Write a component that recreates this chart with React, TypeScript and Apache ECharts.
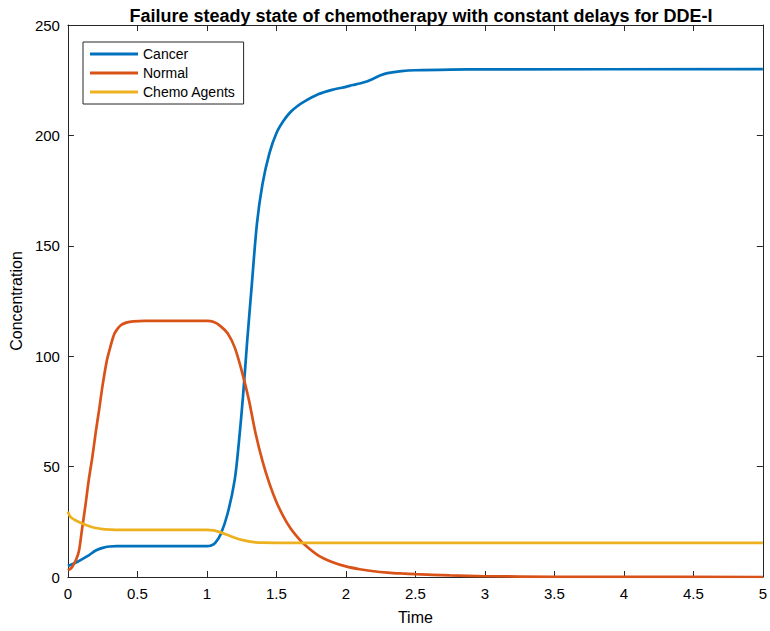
import React, { useEffect, useRef } from "react";
import * as echarts from "echarts";

const cancerTime = [0, 0.05, 0.1, 0.15, 0.2, 0.25, 0.3, 0.35, 1.0, 1.03, 1.06, 1.1, 1.15, 1.2, 1.23, 1.26, 1.29, 1.32, 1.36, 1.4, 1.45, 1.5, 1.55, 1.6, 1.65, 1.7, 1.8, 1.9, 2.0, 2.05, 2.1, 2.15, 2.2, 2.25, 2.3, 2.4, 2.5, 2.75, 3.0, 5.0];
const cancer = [5.0, 6.3, 8.0, 9.8, 12.0, 13.2, 13.8, 14.0, 14.0, 14.3, 15.5, 19.5, 29, 44, 61, 82, 107, 130, 160, 178, 192, 201, 206.5, 210.5, 213.2, 215.3, 218.6, 220.6, 222, 222.8, 223.5, 224.4, 225.8, 227.2, 228.2, 229.1, 229.5, 229.8, 229.9, 230];

const normalTime = [0, 0.03, 0.06, 0.08, 0.1, 0.125, 0.15, 0.175, 0.2, 0.225, 0.25, 0.28, 0.3, 0.33, 0.35, 0.38, 0.42, 0.47, 0.55, 1.0, 1.05, 1.1, 1.15, 1.2, 1.25, 1.3, 1.35, 1.4, 1.45, 1.5, 1.55, 1.6, 1.65, 1.7, 1.8, 1.9, 2.0, 2.1, 2.2, 2.3, 2.4, 2.5, 2.75, 3.0, 3.5, 4.0, 5.0];
const normal = [3, 4.5, 8, 12, 21, 32, 44, 54, 65.5, 76, 87, 98, 103, 109.5, 111.8, 114, 115.2, 115.8, 116, 116, 115.5, 113.5, 110.3, 104, 93.5, 80.8, 65.1, 52.5, 42.3, 34, 27.5, 22.2, 18.2, 14.8, 9.8, 6.8, 4.8, 3.5, 2.6, 2.0, 1.6, 1.3, 0.7, 0.35, 0.1, 0.03, 0];

const chemoTime = [0, 0.01, 0.025, 0.05, 0.1, 0.15, 0.2, 0.25, 0.3, 0.4, 1.0, 1.05, 1.1, 1.15, 1.2, 1.25, 1.3, 1.35, 1.4, 1.5, 5.0];
const chemo = [29.6, 28, 26.8, 25.8, 24.3, 23.1, 22.2, 21.7, 21.5, 21.3, 21.3, 21.1, 20.2, 19, 17.8, 16.8, 16.1, 15.7, 15.55, 15.5, 15.5];

const seriesNames = ["Cancer", "Normal", "Chemo Agents"];
const colors = ["#0072BD", "#D95319", "#EDB120"];
const xTicks = [0, 0.5, 1, 1.5, 2, 2.5, 3, 3.5, 4, 4.5, 5];
const yTicks = [0, 50, 100, 150, 200, 250];

const FONT = "'Liberation Sans', Arial, Helvetica, sans-serif";
const AX = "#262626";

export default function App() {
  const ref = useRef<HTMLDivElement>(null);
  useEffect(() => {
    if (!ref.current) return;
    const chart = echarts.init(ref.current, null, { renderer: "svg" });
    const sets = [
      [cancerTime, cancer],
      [normalTime, normal],
      [chemoTime, chemo],
    ];
    const mkSeries = sets.map(([ts, vs], i) => ({
      name: seriesNames[i],
      type: "line",
      data: ts.map((t, j) => [t, vs[j]]),
      showSymbol: false,
      smooth: 0.3,
      lineStyle: { color: colors[i], width: 2.7 },
      itemStyle: { color: colors[i] },
      xAxisIndex: 0,
      yAxisIndex: 0,
    }));
    const common = {
      axisLine: { show: true, onZero: false, lineStyle: { color: AX, width: 1 } },
      axisTick: { show: true, inside: true, length: 6, lineStyle: { color: AX } },
      splitLine: { show: false },
    };
    chart.setOption({
      animation: false,
      backgroundColor: "#fff",
      title: {
        text: "Failure steady state of chemotherapy with constant delays for DDE-I",
        left: 416,
        textAlign: "center",
        top: 2,
        textStyle: { fontFamily: FONT, fontSize: 18, fontWeight: "bold", color: "#000" },
      },
      legend: {
        orient: "vertical",
        left: 83,
        top: 42,
        data: seriesNames,
        icon: "rect",
        itemWidth: 48,
        itemHeight: 3,
        itemGap: 3,
        padding: [4, 8, 4, 7],
        borderColor: AX,
        borderWidth: 1,
        backgroundColor: "#fff",
        textStyle: { fontFamily: FONT, fontSize: 14, color: "#000", lineHeight: 16 },
      },
      grid: { left: 66, right: 4, top: 25, bottom: 54 },
      xAxis: [
        {
          type: "value",
          min: 0,
          max: 5,
          interval: 0.5,
          position: "bottom",
          name: "Time",
          nameLocation: "middle",
          nameGap: 32,
          nameTextStyle: { fontFamily: FONT, fontSize: 16, color: "#000" },
          axisLabel: {
            fontFamily: FONT,
            fontSize: 15,
            color: "#000",
            margin: 9,
            formatter: (v: number) => (xTicks.includes(v) ? String(v) : ""),
          },
          ...common,
        },
        {
          type: "value",
          min: 0,
          max: 5,
          interval: 0.5,
          position: "top",
          axisLabel: { show: false },
          ...common,
        },
      ],
      yAxis: [
        {
          type: "value",
          min: 0,
          max: 250,
          interval: 50,
          position: "left",
          name: "Concentration",
          nameLocation: "middle",
          nameGap: 41,
          nameTextStyle: { fontFamily: FONT, fontSize: 16, color: "#000" },
          axisLabel: {
            fontFamily: FONT,
            fontSize: 15,
            color: "#000",
            margin: 8,
            formatter: (v: number) => (yTicks.includes(v) ? String(v) : ""),
          },
          ...common,
        },
        {
          type: "value",
          min: 0,
          max: 250,
          interval: 50,
          position: "right",
          axisLabel: { show: false },
          ...common,
        },
      ],
      series: mkSeries,
    });
    return () => chart.dispose();
  }, []);
  return <div ref={ref} style={{ width: 770, height: 631, position: "absolute", left: 0, top: 0 }} />;
}
